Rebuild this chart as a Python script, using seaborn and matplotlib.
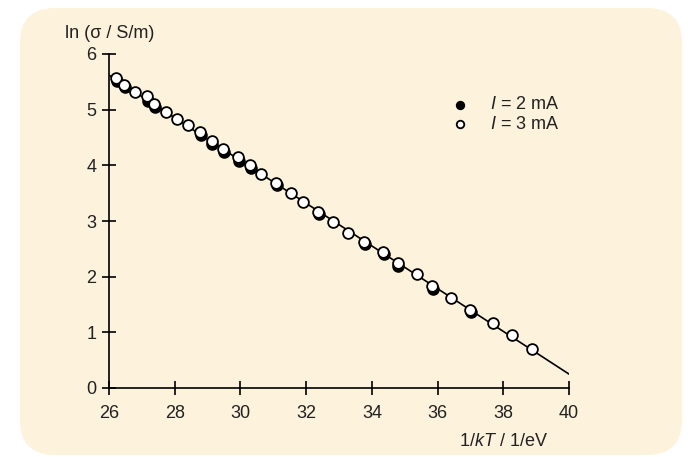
import numpy as np
import pandas as pd
import matplotlib
matplotlib.use('Agg')
import matplotlib.pyplot as plt
from matplotlib.patches import FancyBboxPatch
import seaborn as sns

# 1/kT (1/eV) and ln(sigma / S/m)
x_3ma = [26.21, 26.46, 26.79, 27.16, 27.37, 27.73, 28.07, 28.40, 28.77, 29.13,
         29.47, 29.93, 30.29, 30.63, 31.08, 31.54, 31.90, 32.36, 32.82, 33.27,
         33.76, 34.34, 34.79, 35.37, 35.83, 36.41, 36.99, 37.69, 38.26, 38.87]
y_3ma = [5.57, 5.44, 5.32, 5.24, 5.10, 4.96, 4.83, 4.72, 4.60, 4.44,
         4.29, 4.15, 4.01, 3.84, 3.68, 3.50, 3.34, 3.16, 2.98, 2.78,
         2.62, 2.44, 2.25, 2.05, 1.83, 1.62, 1.40, 1.17, 0.95, 0.70]

x_2ma = [26.23, 26.48, 27.18, 27.39, 28.79, 29.15, 29.49, 29.95, 30.31,
         31.10, 32.38, 33.78, 34.36, 34.81, 35.85, 37.01]
y_2ma = [5.52, 5.40, 5.16, 5.04, 4.54, 4.38, 4.24, 4.08, 3.96,
         3.64, 3.12, 2.58, 2.41, 2.20, 1.77, 1.36]

fit_x = [26.0, 40.0]
fit_y = [5.62, 0.25]

sns.set_theme(style='white')
plt.rcParams['font.family'] = ['Liberation Sans', 'DejaVu Sans']
plt.rcParams['mathtext.fontset'] = 'custom'
plt.rcParams['mathtext.rm'] = 'Liberation Sans'
plt.rcParams['mathtext.it'] = 'Liberation Sans:italic'

fig = plt.figure(figsize=(6.91, 4.57), dpi=100)
fig.patch.set_facecolor('white')

# rounded beige panel behind the axes
panel = FancyBboxPatch((0.20, 0.02), 6.62, 4.47,
                       boxstyle='round,pad=0,rounding_size=0.35',
                       transform=fig.dpi_scale_trans,
                       facecolor='#fdf2dc', edgecolor='none', zorder=-5)
fig.patches.append(panel)

ax = fig.add_axes([109 / 691, 69 / 457, 460 / 691, 334 / 457])
ax.patch.set_alpha(0)
ax.set_zorder(1)

df2 = pd.DataFrame({'x': x_2ma, 'y': y_2ma})
df3 = pd.DataFrame({'x': x_3ma, 'y': y_3ma})

sns.lineplot(x=fit_x, y=fit_y, ax=ax, color='black', linewidth=1.2, zorder=1)
sns.scatterplot(data=df2, x='x', y='y', ax=ax, color='black', edgecolor='black',
                s=60, linewidth=1.3, zorder=2, label='$I$ = 2 mA', clip_on=False)
sns.scatterplot(data=df3, x='x', y='y', ax=ax, color='white', edgecolor='black',
                s=60, linewidth=1.3, zorder=3, label='$I$ = 3 mA', clip_on=False)

ax.set_xlim(26, 40)
ax.set_ylim(0, 6)
ax.set_xticks(np.arange(26, 41, 2))
ax.set_yticks(np.arange(0, 7, 1))
for s in ['top', 'right']:
    ax.spines[s].set_visible(False)
for s in ['left', 'bottom']:
    ax.spines[s].set_color('black')
    ax.spines[s].set_linewidth(1.2)
ax.tick_params(direction='inout', length=10, width=1.2, color='black',
               labelsize=13, labelcolor='#222222', left=True, bottom=True)
ax.tick_params(axis='x', pad=7)
ax.tick_params(axis='y', pad=4)

ax.set_xlabel('')
ax.set_ylabel('')
fig.text(65 / 691, 1 - 34 / 457, 'ln (σ / S/m)', fontsize=13, color='#222222',
         ha='left', va='center')
fig.text(548 / 691, 1 - 441 / 457, '1/$kT$ / 1/eV', fontsize=13, color='#222222',
         ha='right', va='center')

leg = ax.legend(loc='upper left', bbox_to_anchor=(0.748, 0.873), frameon=False,
                fontsize=13, handlelength=0.8, handletextpad=1.25,
                labelspacing=0.15, borderpad=0, borderaxespad=0,
                markerscale=0.7)
for t in leg.get_texts():
    t.set_color('#222222')

fig.savefig('out.png', dpi=100, facecolor='white')
